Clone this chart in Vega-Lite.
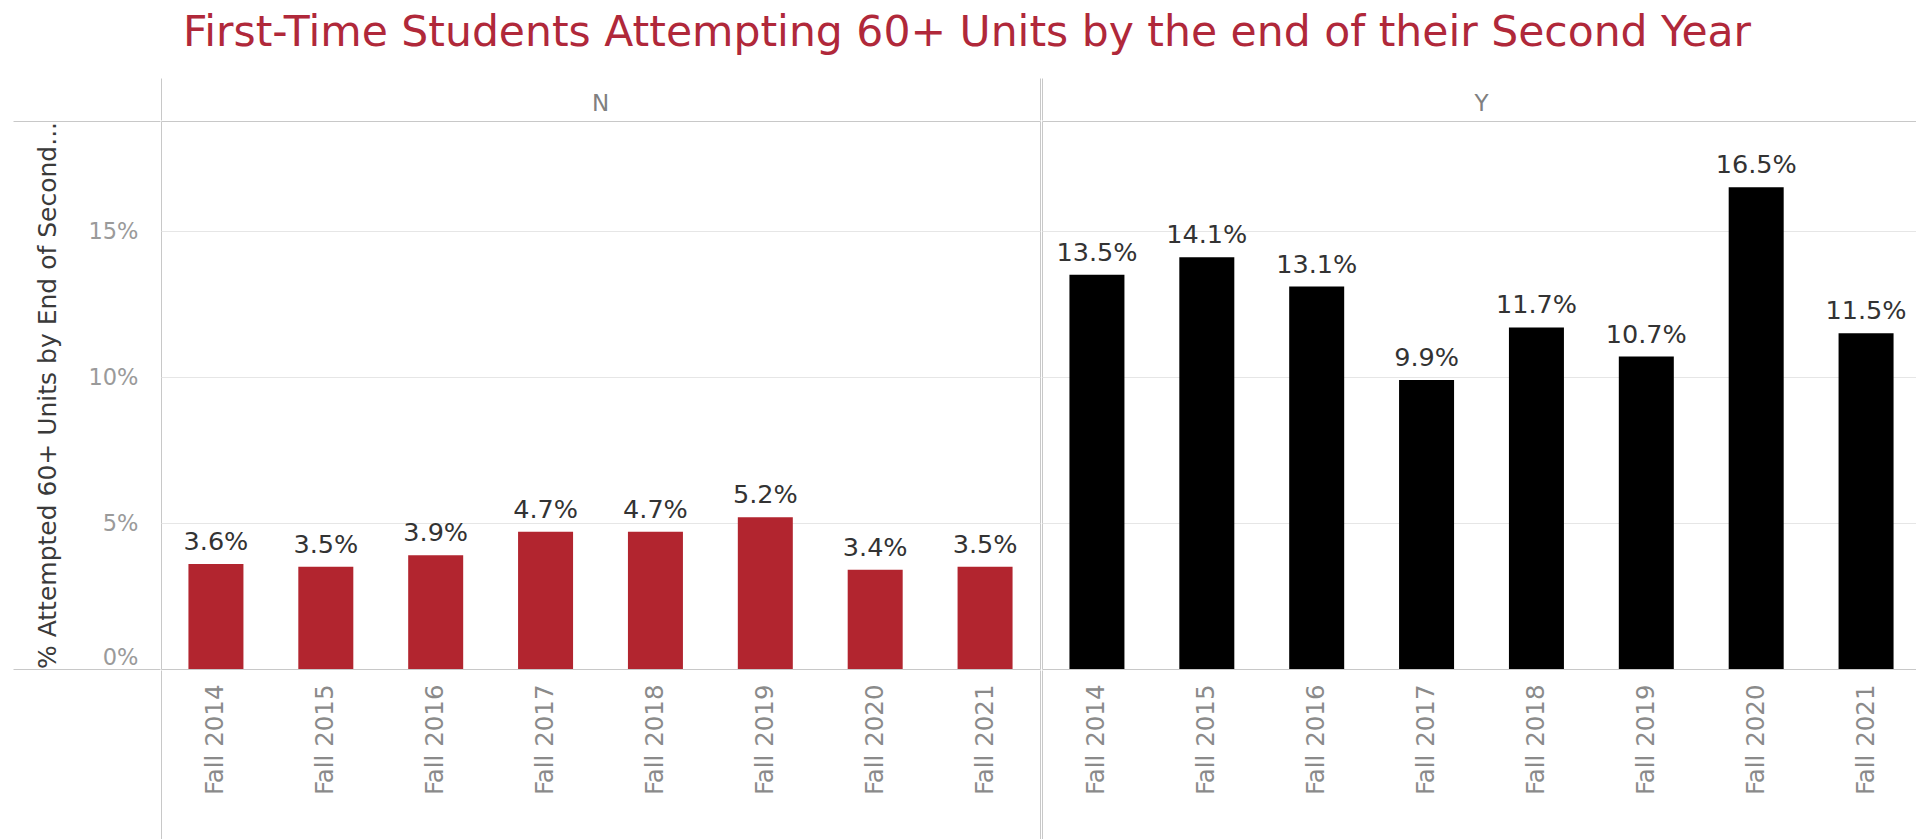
{
  "$schema": "https://vega.github.io/schema/vega-lite/v6.json",
  "background": "white",
  "padding": {"left": 12, "top": 12, "right": 0, "bottom": 0},
  "title": {
    "text": "First-Time Students Attempting 60+ Units by the end of their Second Year",
    "font": "DejaVu Sans",
    "fontSize": 42.5,
    "fontWeight": "normal",
    "color": "#b0283a",
    "anchor": "middle",
    "offset": 23
  },
  "data": {
    "values": [
      {"group": "N", "term": "Fall 2014", "pct": 0.036},
      {"group": "N", "term": "Fall 2015", "pct": 0.035},
      {"group": "N", "term": "Fall 2016", "pct": 0.039},
      {"group": "N", "term": "Fall 2017", "pct": 0.047},
      {"group": "N", "term": "Fall 2018", "pct": 0.047},
      {"group": "N", "term": "Fall 2019", "pct": 0.052},
      {"group": "N", "term": "Fall 2020", "pct": 0.034},
      {"group": "N", "term": "Fall 2021", "pct": 0.035},
      {"group": "Y", "term": "Fall 2014", "pct": 0.135},
      {"group": "Y", "term": "Fall 2015", "pct": 0.141},
      {"group": "Y", "term": "Fall 2016", "pct": 0.131},
      {"group": "Y", "term": "Fall 2017", "pct": 0.099},
      {"group": "Y", "term": "Fall 2018", "pct": 0.117},
      {"group": "Y", "term": "Fall 2019", "pct": 0.107},
      {"group": "Y", "term": "Fall 2020", "pct": 0.165},
      {"group": "Y", "term": "Fall 2021", "pct": 0.115}
    ]
  },
  "facet": {
    "column": {
      "field": "group",
      "type": "nominal",
      "title": null,
      "header": {
        "labelOrient": "top",
        "labelFont": "DejaVu Sans",
        "labelFontSize": 23,
        "labelColor": "#808080",
        "labelPadding": -38
      }
    }
  },
  "spacing": 0,
  "spec": {
    "width": 879,
    "height": 548,
    "encoding": {
      "x": {
        "field": "term",
        "type": "ordinal",
        "sort": null,
        "scale": {"paddingInner": 0, "paddingOuter": 0},
        "axis": {
          "title": null,
          "labelAngle": -90,
          "labelFont": "DejaVu Sans",
          "labelFontSize": 24.5,
          "labelColor": "#8a8a8a",
          "domain": false,
          "grid": false,
          "ticks": true,
          "tickBand": "extent",
          "tickSize": 169,
          "tickColor": {"condition": {"test": "datum.extra || datum.value == 'Fall 2021'", "value": "#c8c8c8"}, "value": "transparent"},
          "labelPadding": -155
        }
      },
      "y": {
        "field": "pct",
        "type": "quantitative",
        "scale": {"domain": [0, 0.1877], "nice": false, "zero": true},
        "axis": {
          "title": "% Attempted 60+ Units by End of Second...",
          "titleFont": "DejaVu Sans",
          "titleFontSize": 25,
          "titleFontWeight": "normal",
          "titleColor": "#3a3a3a",
          "titleX": -100,
          "values": [0, 0.05, 0.1, 0.15, 0.1877],
          "format": ".0%",
          "labelExpr": "datum.value > 0.18 ? '' : datum.label",
          "labelFont": "DejaVu Sans",
          "labelFontSize": 22.5,
          "labelColor": "#9a9a9a",
          "labelFlush": true,
          "domain": false,
          "grid": true,
          "gridColor": {"condition": {"test": "datum.value > 0 && datum.value < 0.18", "value": "#e6e6e6"}, "value": "transparent"},
          "ticks": true,
          "tickSize": 147,
          "tickColor": {"condition": {"test": "datum.value == 0 || datum.value > 0.18", "value": "#c8c8c8"}, "value": "transparent"},
          "labelPadding": -125
        }
      }
    },
    "layer": [
      {
        "mark": {"type": "bar", "size": 55},
        "encoding": {
          "color": {
            "field": "group",
            "type": "nominal",
            "scale": {"domain": ["N", "Y"], "range": ["#b2252f", "#000000"]},
            "legend": null
          }
        }
      },
      {
        "mark": {"type": "text", "baseline": "bottom", "dy": -9, "font": "DejaVu Sans", "fontSize": 25.5, "color": "#333333"},
        "encoding": {
          "x": {
            "field": "term",
            "type": "ordinal",
            "sort": null,
            "axis": {
              "orient": "top",
              "title": null,
              "labels": false,
              "domain": false,
              "grid": false,
              "ticks": true,
              "tickBand": "extent",
              "tickSize": 42,
              "tickColor": {"condition": {"test": "datum.extra || datum.value == 'Fall 2021'", "value": "#c8c8c8"}, "value": "transparent"}
            }
          },
          "text": {"field": "pct", "type": "quantitative", "format": ".1%"}
        }
      }
    ],
    "resolve": {"axis": {"x": "independent"}}
  },
  "config": {
    "view": {"stroke": "#c8c8c8", "strokeWidth": 1}
  }
}
